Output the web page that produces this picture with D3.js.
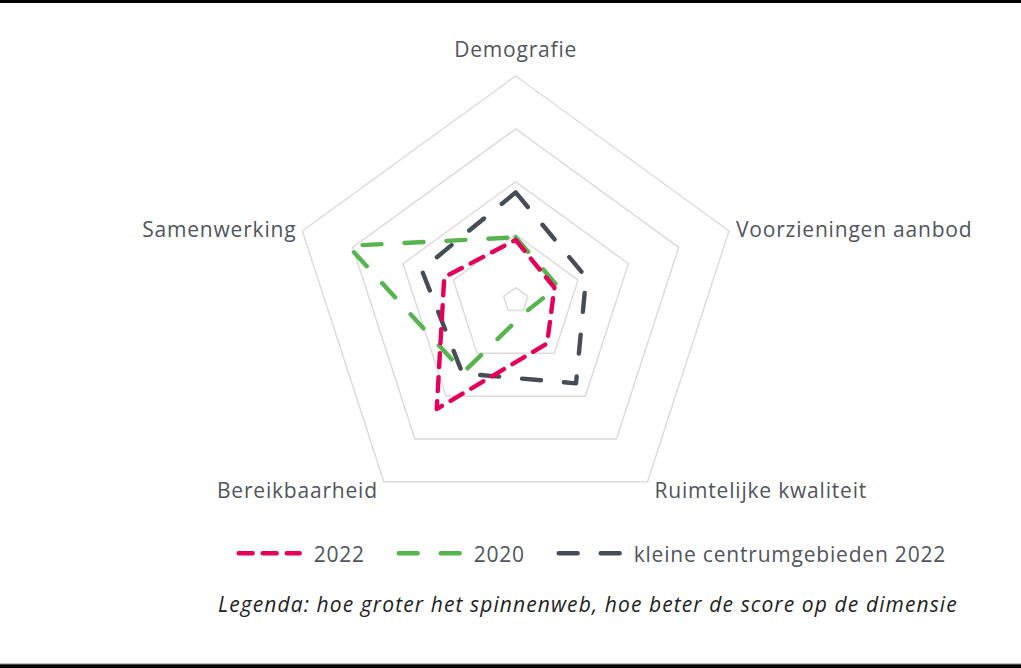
<!DOCTYPE html>
<html>
<head>
<meta charset="utf-8">
<script src="https://cdn.jsdelivr.net/npm/d3@7/dist/d3.min.js"></script>
<style>
  html, body { margin: 0; padding: 0; background: #fff; }
  svg { display: block; }
</style>
</head>
<body>
<svg id="chart" width="1021" height="668"></svg>
<script>
// ---- data ----
const axes = ["Demografie", "Voorzieningen aanbod", "Ruimtelijke kwaliteit", "Bereikbaarheid", "Samenwerking"];
const values2022 = [0.90, 0.53, 0.77, 2.30, 1.18];
const values2020 = [0.95, 0.60, 0.05, 1.44, 3.09];
const valuesKlein = [1.80, 1.16, 1.70, 1.47, 1.63];
const gridTicks = [0, 1, 2, 3, 4];
const seriesNames = ["2022", "2020", "kleine centrumgebieden 2022"];
const caption = "Legenda: hoe groter het spinnenweb, hoe beter de score op de dimensie";

// ---- layout / style ----
const W = 1021, H = 668;
const cx = 515.7, cy = 300.3, R = 224.3;
const colors = ["#e6005a", "#58b44f", "#474d56"];
const dashes = ["14,10", "19,23", "19,23"];
const labelColor = "#50555c";
const font = "'Open Sans', 'Noto Sans', sans-serif";
const fontSize = 21, letterSp = 0.8;
const strokeW = 4.4;

const svg = d3.select("#chart");
svg.append("rect").attr("width", W).attr("height", H).attr("fill", "#fff");
svg.append("rect").attr("x", 0).attr("y", 0).attr("width", W).attr("height", 3).attr("fill", "#000");
svg.append("rect").attr("x", 0).attr("y", 664).attr("width", W).attr("height", 4).attr("fill", "#000");
svg.append("rect").attr("x", 0).attr("y", 663.5).attr("width", W).attr("height", 1).attr("fill", "#888");

const r = d3.scaleLinear().domain([-0.24, 4]).range([0, R]);
const angle = d3.scalePoint().domain(axes).range([0, 2 * Math.PI * (axes.length - 1) / axes.length]);
const pt = (ax, v) => {
  const a = angle(ax) - Math.PI / 2;
  return [cx + r(v) * Math.cos(a), cy + r(v) * Math.sin(a)];
};

const g = svg.append("g");
const lineGen = d3.line().curve(d3.curveLinearClosed);

// grid
g.selectAll("path.grid").data(gridTicks).join("path")
  .attr("class", "grid")
  .attr("d", t => lineGen(axes.map(a => pt(a, t))))
  .attr("fill", "none")
  .attr("stroke", "#dcdcdc")
  .attr("stroke-width", 1.5);

// axis labels
axes.forEach(a => {
  const ang = angle(a) - Math.PI / 2;
  const [x, y] = pt(a, gridTicks[gridTicks.length - 1]);
  const c = Math.cos(ang), s = Math.sin(ang);
  let anchor = "middle", dx = 0, dy = 0;
  if (c > 0.1) { anchor = "start"; dx = 7; }
  else if (c < -0.1) { anchor = "end"; dx = -6; }
  if (s < -0.9) dy = -19.5;
  else if (s < 0) dy = 6.5;
  else dy = 16;
  g.append("text")
    .attr("x", x + dx).attr("y", y + dy)
    .attr("text-anchor", anchor)
    .attr("font-family", font)
    .attr("font-size", fontSize)
    .attr("letter-spacing", letterSp)
    .attr("fill", labelColor)
    .text(a);
});

// series (draw last dataset first)
const allSeries = [values2022, values2020, valuesKlein];
for (let i = allSeries.length - 1; i >= 0; i--) {
  const vals = allSeries[i];
  g.append("path")
    .attr("d", lineGen(axes.map((a, j) => pt(a, vals[j]))))
    .attr("fill", "none")
    .attr("stroke", colors[i])
    .attr("stroke-width", strokeW)
    .attr("stroke-dasharray", dashes[i])
    .attr("stroke-linecap", "round")
    .attr("stroke-linejoin", "round");
}

// legend
const legendX = [238.7, 398.7, 558.7];
const legendY = 553.3;
seriesNames.forEach((name, i) => {
  const lg = svg.append("g");
  lg.append("path")
    .attr("d", `M${legendX[i]},${legendY}h61`)
    .attr("stroke", colors[i])
    .attr("stroke-width", strokeW)
    .attr("stroke-dasharray", dashes[i])
    .attr("stroke-linecap", "round");
  lg.append("text")
    .attr("x", legendX[i] + 75).attr("y", legendY + 8.4)
    .attr("font-family", font)
    .attr("font-size", fontSize)
    .attr("letter-spacing", letterSp)
    .attr("fill", labelColor)
    .text(name);
});

// caption
svg.append("text")
  .attr("x", 218).attr("y", 611.7)
  .attr("font-family", font)
  .attr("font-size", fontSize)
  .attr("letter-spacing", 1.1)
  .attr("font-style", "italic")
  .attr("fill", "#222")
  .text(caption);
</script>
</body>
</html>
